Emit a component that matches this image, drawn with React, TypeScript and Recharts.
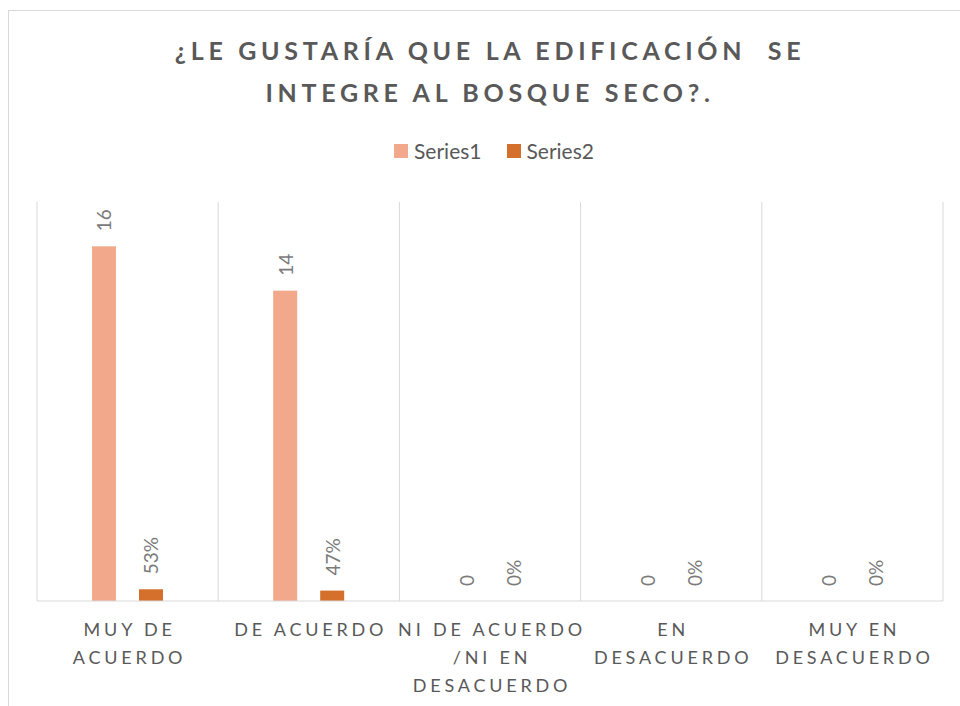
import { BarChart, Bar, XAxis, YAxis, CartesianGrid } from "recharts";

// categorías y valores de la encuesta
const categories = [
  "MUY DE ACUERDO",
  "DE ACUERDO",
  "NI DE ACUERDO /NI EN DESACUERDO",
  "EN DESACUERDO",
  "MUY EN DESACUERDO",
];
const tickLines = [
  ["MUY DE", "ACUERDO"],
  ["DE ACUERDO"],
  ["NI DE ACUERDO", "/NI EN", "DESACUERDO"],
  ["EN", "DESACUERDO"],
  ["MUY EN", "DESACUERDO"],
];
const series1 = [16, 14, 0, 0, 0];
const series2 = [0.53, 0.47, 0, 0, 0];
const yDomain = [0, 18];

const title = ["¿LE GUSTARÍA QUE LA EDIFICACIÓN  SE", "INTEGRE AL BOSQUE SECO?."];
const seriesNames = ["Series1", "Series2"];
const colors = ["#F1A88B", "#D4702C"];

const FONT = "Lato, 'Open Sans', sans-serif";
const TEXT = "#595959";

const rows = categories.map((name, i) => ({
  name,
  s1: series1[i],
  s2: series2[i],
}));

function CatTick(props: any) {
  const { x, y, payload } = props;
  const lines = tickLines[payload.index] || [payload.value];
  return (
    <g>
      {lines.map((l, i) => (
        <text
          key={i}
          x={x + 2}
          y={y + 27 + i * 28}
          textAnchor="middle"
          fill={TEXT}
          fontSize={18}
          fontFamily={FONT}
          style={{ letterSpacing: "3.8px", whiteSpace: "pre" }}
        >
          {l}
        </text>
      ))}
    </g>
  );
}

// barra + etiqueta girada (se dibuja también cuando el valor es 0)
const barWithLabel = (fmt: (v: number) => string) => (props: any) => {
  const { x, y, width, height, fill, value } = props;
  const v = Array.isArray(value) ? value[1] - value[0] : Number(value);
  const cx = Number(x) + Number(width) / 2;
  const ty = Number(y) - 15;
  return (
    <g>
      {height > 0 && <rect x={x} y={y} width={width} height={height} fill={fill} />}
      <text
        x={cx}
        y={ty}
        transform={`rotate(-90 ${cx} ${ty})`}
        textAnchor="start"
        dominantBaseline="central"
        fill="#7a7a7a"
        fontSize={19}
        fontFamily={FONT}
      >
        {fmt(v)}
      </text>
    </g>
  );
};

export default function App() {
  return (
    <div
      style={{
        position: "absolute",
        left: 0,
        top: 0,
        width: 960,
        height: 706,
        overflow: "hidden",
        background: "#fff",
      }}
    >
      <div
        style={{
          position: "absolute",
          left: 8,
          top: 10,
          width: 1000,
          height: 800,
          border: "1px solid #d9d9d9",
        }}
      />
      <div
        style={{
          position: "absolute",
          left: 0,
          top: 29,
          width: 980,
          textAlign: "center",
          fontFamily: FONT,
          fontWeight: 700,
          fontSize: 25,
          lineHeight: "42px",
          letterSpacing: "4.7px",
          color: TEXT,
          whiteSpace: "pre",
        }}
      >
        {title.map((t) => (
          <div key={t}>{t}</div>
        ))}
      </div>
      <div
        style={{
          position: "absolute",
          left: 0,
          top: 138,
          width: 988,
          display: "flex",
          justifyContent: "center",
          gap: 25,
          fontFamily: FONT,
          fontSize: 21,
          color: TEXT,
        }}
      >
        {seriesNames.map((n, i) => (
          <div key={n} style={{ display: "flex", alignItems: "center", gap: 6 }}>
            <span style={{ width: 14, height: 14, background: colors[i], display: "inline-block" }} />
            <span>{n}</span>
          </div>
        ))}
      </div>
      <div style={{ position: "absolute", left: 0, top: 0 }}>
        <BarChart
          width={960}
          height={706}
          data={rows}
          margin={{ top: 202, right: 17, bottom: 0, left: 37 }}
          barGap={23}
          barSize={24}
        >
          <CartesianGrid
            horizontal={false}
            stroke="#d9d9d9"
            verticalCoordinatesGenerator={({ offset }: any) =>
              [0, 1, 2, 3, 4, 5].map((i) => offset.left + (i * offset.width) / categories.length)
            }
          />
          <XAxis
            dataKey="name"
            height={105}
            interval={0}
            tickLine={false}
            axisLine={{ stroke: "#d9d9d9" }}
            tick={<CatTick />}
          />
          <YAxis hide domain={yDomain} />
          <Bar
            dataKey="s1"
            fill={colors[0]}
            isAnimationActive={false}
            shape={barWithLabel((v) => String(v))}
          />
          <Bar
            dataKey="s2"
            fill={colors[1]}
            isAnimationActive={false}
            shape={barWithLabel((v) => `${Math.round(v * 100)}%`)}
          />
        </BarChart>
      </div>
    </div>
  );
}
